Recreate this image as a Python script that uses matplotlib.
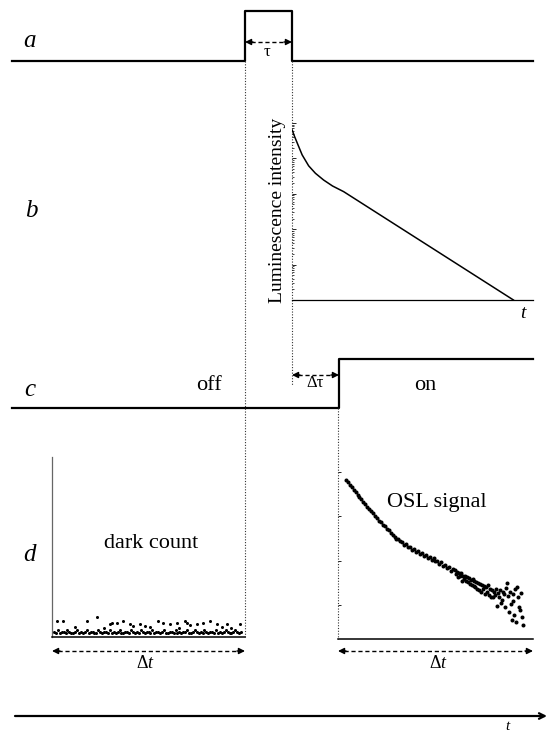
import numpy as np
import matplotlib.pyplot as plt

plt.rcParams['font.family'] = ['Liberation Serif', 'DejaVu Serif']
plt.rcParams['mathtext.fontset'] = 'custom'
plt.rcParams['mathtext.rm'] = 'Liberation Serif'
plt.rcParams['mathtext.it'] = 'Liberation Serif:italic'

# --- schematic timing traces (time in figure units, level 0/1) ---
stim_time = [12, 245, 245, 292, 292, 533]
stim_level = [0, 0, 1, 1, 0, 0]
pmt_time = [12, 339, 339, 533]
pmt_level = [0, 0, 1, 1]

# --- panel b: luminescence decay after the pulse ---
lum_time = [0.003, 0.012, 0.024, 0.044, 0.071, 0.099, 0.133, 0.170, 0.216, 0.919]
lum_intensity = [63000, 42700, 26900, 12600, 6170, 3800, 2450, 1660, 1150, 1]

# --- panel d: dark count (off) ---
dark_time = list(range(1, 99))
dark_counts = [3, 2, 4, 2, 3, 3, 2, 4, 3, 2, 2, 3, 4, 2, 3, 2, 3, 4, 2, 3,
               3, 2, 2, 4, 3, 2, 3, 3, 2, 4, 2, 3, 2, 3, 4, 2, 2, 3, 3, 2,
               4, 3, 2, 3, 2, 4, 3, 2, 3, 3, 2, 4, 2, 3, 3, 2, 3, 4, 2, 2,
               3, 3, 2, 4, 2, 3, 2, 3, 3, 4, 2, 2, 3, 4, 3, 2, 3, 2, 4, 3,
               2, 3, 3, 2, 4, 2, 3, 2, 3, 4, 3, 2, 2, 3, 4, 3, 2, 3]
spike_time = [2.4, 5.9, 12, 18.0, 23.1, 27, 30.0, 30.9, 33.5, 37.0, 40.4, 42.1,
              45.6, 48.2, 51, 55.1, 57.7, 61.1, 64.6, 66, 68.9, 69.8, 71.5, 75.0,
              78.4, 81.9, 85.3, 88, 90.5, 93, 97.4]
spike_counts = [8.9, 8.9, 5.5, 8.9, 11.3, 5.0, 7.0, 8.0, 8.0, 8.9, 7.0, 6.3,
                7.0, 6.3, 5.5, 8.9, 8.0, 7.0, 8.0, 5.0, 8.9, 8.0, 6.5, 7.5,
                8.0, 8.9, 7.5, 5.5, 7.0, 5.0, 7.0]

# --- panel d: OSL signal (on), log10 counts ---
osl_time = [4, 5, 6, 7, 8, 9, 10, 11, 12, 13, 14, 15, 16, 17, 18, 19, 20, 21,
            22, 23, 24, 25, 26, 27, 28, 29, 30, 31, 32, 33, 34, 35, 36, 37, 38,
            39, 40, 41, 42, 43, 44, 45, 46, 47, 48, 49, 50, 51, 52, 53, 54, 55,
            56, 57, 58, 59,
            60, 60.5, 61, 61.5, 62, 62.5, 63, 63.5, 64, 64.5, 65, 65.5, 66, 66.5,
            67, 67.5, 68, 68.5, 69, 69.5, 70, 70.5, 71, 71.5, 72, 72.5, 73, 73.5,
            74, 74.5, 75, 75.5, 76, 76.5, 77, 77.5, 78, 78.5, 79, 79.5, 80, 80.5,
            81, 81.5, 82, 82.5, 83, 83.5, 84, 84.5, 85, 85.5, 86, 86.5, 87, 87.5,
            88, 88.5, 89, 89.5, 90, 90.5, 91, 91.5, 92, 92.5, 93, 93.5, 94, 94.5, 95]
osl_log10 = [3.82, 3.76, 3.70, 3.645, 3.59, 3.54, 3.48, 3.43, 3.375, 3.32, 3.265,
             3.21, 3.16, 3.115, 3.06, 3.01, 2.955, 2.90, 2.87, 2.80, 2.77, 2.70,
             2.68, 2.61, 2.58, 2.54, 2.49, 2.48, 2.43, 2.42, 2.36, 2.37, 2.31,
             2.30, 2.24, 2.26, 2.19, 2.21, 2.15, 2.17, 2.10, 2.13, 2.05, 2.09,
             2.02, 2.05, 1.98, 2.00, 1.93, 1.96, 1.87, 1.90, 1.83, 1.86, 1.77, 1.82,
             1.78, 1.70, 1.75, 1.62, 1.72, 1.66, 1.71, 1.55, 1.66, 1.58, 1.65, 1.54,
             1.62, 1.52, 1.60, 1.48, 1.57, 1.45, 1.58, 1.42, 1.55, 1.40, 1.52, 1.36,
             1.50, 1.33, 1.47, 1.30, 1.45, 1.35, 1.42,
             1.25, 1.40, 1.30, 1.44, 1.22, 1.36, 1.18, 1.34, 1.19,
             1.30, 1.22, 1.36, 0.97, 1.28, 1.18, 1.33, 1.05, 1.11, 1.30, 1.24, 0.95,
             1.38, 1.50, 1.20, 0.85, 1.30, 1.02, 0.66, 1.25, 1.10, 0.78, 1.35, 0.62,
             1.41, 1.18, 0.95, 0.89, 1.28, 0.72, 0.55]

W, H = 548, 733
fig = plt.figure(figsize=(W / 100, H / 100), dpi=100)

# overlay in pixel coordinates for the schematic parts
ov = fig.add_axes([0, 0, 1, 1])
ov.set_xlim(0, W)
ov.set_ylim(H, 0)
ov.axis('off')


def rect(x0, x1, y0, y1):
    return [x0 / W, (H - y1) / H, (x1 - x0) / W, (y1 - y0) / H]


# a: stimulation pulse
ov.plot(stim_time, 60.5 - 49.5 * np.array(stim_level), color='k', lw=1.6)
# c: PMT gate
ov.plot(pmt_time, 408 - 49 * np.array(pmt_level), color='k', lw=1.6)

# dotted guide lines
dot = dict(color='#333333', lw=0.8, ls=(0, (1, 1.5)))
ov.plot([245, 245], [61, 637], **dot)
ov.plot([291.5, 291.5], [61, 385], **dot)
ov.plot([338, 338], [408, 639], **dot)


def dim_arrow(x0, x1, y):
    ov.plot([x0 + 6, x1 - 6], [y, y], color='k', lw=1, ls=(0, (3, 2)))
    for a, b in ((x0 + 8, x0), (x1 - 8, x1)):
        ov.annotate('', xy=(b, y), xytext=(a, y),
                    arrowprops=dict(arrowstyle='-|>', color='k', lw=1,
                                    mutation_scale=9, shrinkA=0, shrinkB=0))


dim_arrow(245, 292, 42)
dim_arrow(292, 339, 375)
dim_arrow(52, 245, 651)
dim_arrow(338, 533, 651)

# bottom time axis
ov.annotate('', xy=(547, 716), xytext=(15, 716),
            arrowprops=dict(arrowstyle='->', color='k', lw=1.6,
                            mutation_scale=10, shrinkA=0, shrinkB=0))

# text labels
for s, x, y in (('a', 30, 41), ('b', 31, 211), ('c', 30, 390), ('d', 29, 555)):
    ov.text(x, y, s, fontsize=18, style='italic', ha='center', va='center')
ov.text(267, 52, 'τ', fontsize=12, ha='center', va='center')
ov.text(315, 383, 'Δτ', fontsize=12, ha='center', va='center')
ov.text(209, 385, 'off', fontsize=16, ha='center', va='center')
ov.text(425, 386, 'on', fontsize=16, ha='center', va='center')
ov.text(151, 543, 'dark count', fontsize=16, ha='center', va='center')
ov.text(437, 503, 'OSL signal', fontsize=16, ha='center', va='center')
ov.text(145, 663, r'$\Delta t$', fontsize=13, ha='center', va='center')
ov.text(438, 663, r'$\Delta t$', fontsize=13, ha='center', va='center')
ov.text(523, 314, 't', fontsize=14, style='italic', ha='center', va='center')
ov.text(507, 727, 't', fontsize=11, style='italic', ha='center', va='center')
ov.text(278, 210, 'Luminescence intensity', fontsize=14, rotation=90,
        ha='center', va='center')

# b: luminescence decay
axb = fig.add_axes(rect(291.5, 533, 123, 300))
axb.set_facecolor('none')
axb.plot(lum_time, lum_intensity, color='k', lw=1.1)
axb.set_yscale('log')
axb.set_xlim(0, 1)
axb.set_ylim(1, 1e5)
for sp in ('top', 'right', 'left'):
    axb.spines[sp].set_visible(False)
axb.spines['bottom'].set_linewidth(0.9)
axb.set_xticks([])
axb.tick_params(axis='y', which='major', direction='in', length=3, width=0.6,
                labelleft=False)
axb.tick_params(axis='y', which='minor', direction='in', length=1.5, width=0.5,
                labelleft=False)

# d left: dark count
axd1 = fig.add_axes(rect(52, 245, 457, 637))
axd1.set_facecolor('none')
axd1.plot(dark_time, dark_counts, 'o', color='k', ms=2.2, mec='none')
axd1.plot(spike_time, spike_counts, 'o', color='k', ms=2.2, mec='none')
axd1.set_xlim(0, 100)
axd1.set_ylim(0, 100)
axd1.spines['top'].set_visible(False)
axd1.spines['right'].set_visible(False)
axd1.spines['left'].set_color('#666666')
axd1.spines['left'].set_linewidth(0.9)
axd1.spines['bottom'].set_linewidth(1.1)
axd1.set_xticks([])
axd1.set_yticks([])

# d right: OSL signal
axd2 = fig.add_axes(rect(338, 533, 460, 639))
axd2.set_facecolor('none')
axd2.plot(osl_time, 10 ** np.array(osl_log10), 'o', color='k', ms=2.9, mec='none')
axd2.set_yscale('log')
axd2.set_xlim(0, 100)
axd2.set_ylim(10 ** 0.234, 10 ** 4.264)
for sp in ('top', 'right', 'left'):
    axd2.spines[sp].set_visible(False)
axd2.spines['bottom'].set_linewidth(1.1)
axd2.set_xticks([])
axd2.set_yticks([10, 100, 1000, 10000])
axd2.minorticks_off()
axd2.tick_params(axis='y', direction='in', length=2.5, width=0.6, labelleft=False)

fig.savefig('out.png', dpi=100)
